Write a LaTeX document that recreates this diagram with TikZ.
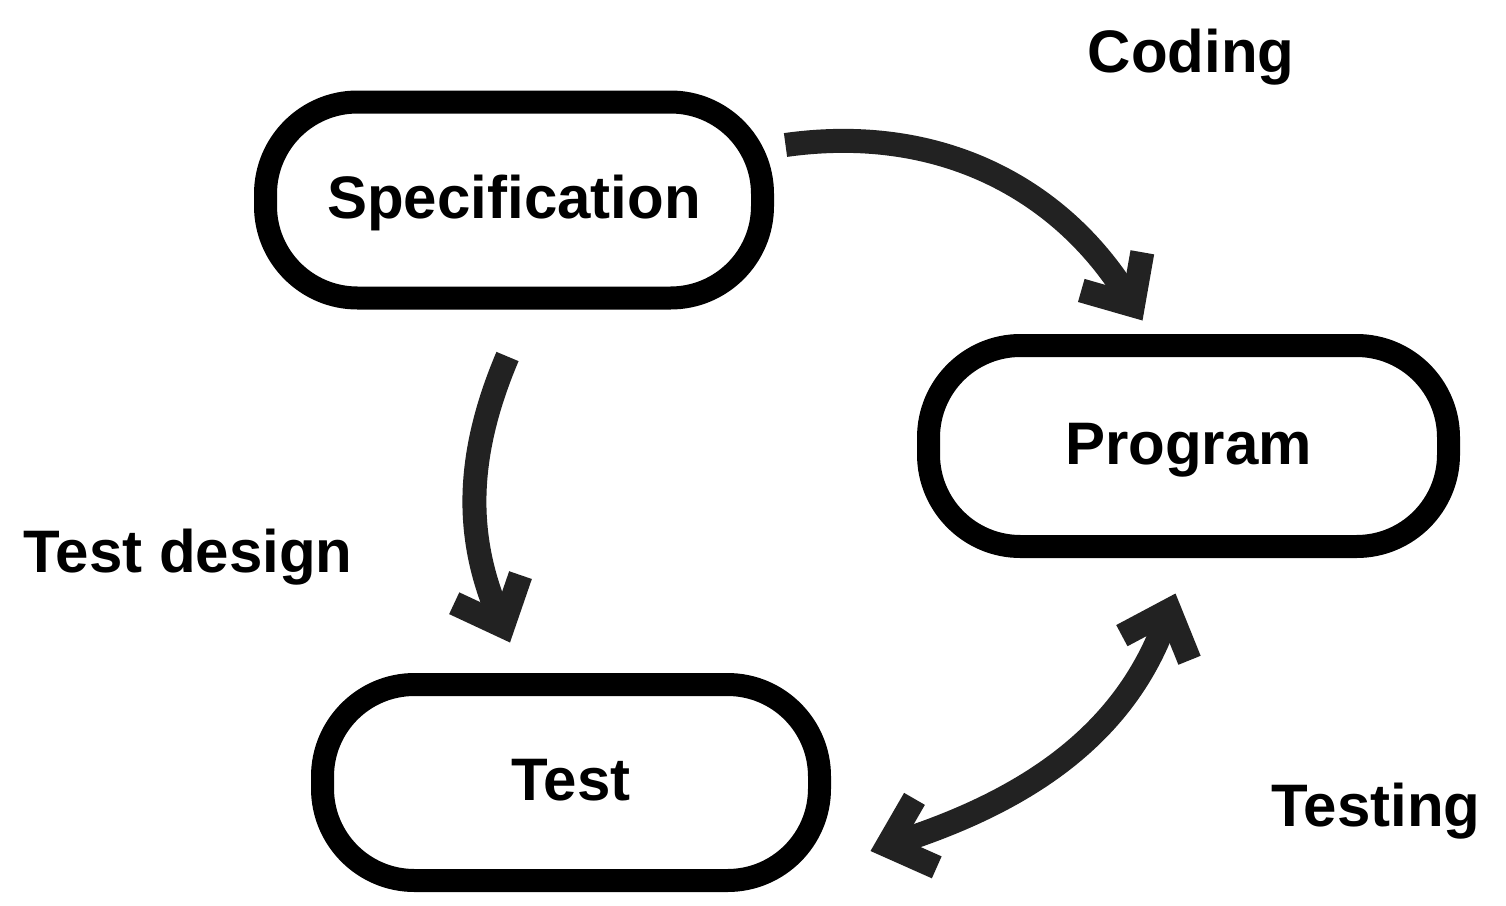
\documentclass[tikz,border=0pt]{standalone}
\usepackage{fontspec}
\setmainfont{Liberation Sans}
\usetikzlibrary{arrows.meta,calc}
\definecolor{arrowgray}{HTML}{222222}
\begin{document}
\begin{tikzpicture}[x=1pt,y=1pt,
  box/.style={draw=black, line width=23pt, rounded corners=92pt, outer sep=0pt, inner sep=0pt,
    font=\fontsize{60}{72}\selectfont\bfseries, text height=48pt, text depth=12pt},
  lbl/.style={font=\fontsize{60}{72}\selectfont\bfseries, inner sep=0pt, anchor=base},
  barb/.tip={Straight Barb[sharp, length=40pt, width=72pt]},
  flow/.style={draw=arrowgray, line width=24pt},
]
\useasboundingbox (0,0) rectangle (1506,-905);
\node[box, minimum width=497pt, minimum height=196pt] (spec) at (514,-200) {Specification};
\node[box, minimum width=520pt, minimum height=201pt] (prog) at (1188.5,-446) {Program};
\node[box, minimum width=497pt, minimum height=196pt] (test) at (571,-782.5) {Test};
\node[lbl] (coding) at (1191,-72) {Coding};
\node[lbl] (testdesign) at (188,-572) {Test design};
\node[lbl] (testing) at (1376,-826) {Testing};
\draw[flow, -barb] ([shift={(23,55)}]spec.east) to[out=8,in=122] ([shift={(-46,25)}]prog.north);
\draw[flow, -barb] ([shift={(-6.5,-58.5)}]spec.south) to[out=-113,in=113] ([shift={(-61,42)}]test.north);
\draw[flow, barb-barb] ([shift={(51,-68.5)}]test.east) to[out=18,in=-110] ([shift={(-13,-47)}]prog.south);
\end{tikzpicture}
\end{document}
